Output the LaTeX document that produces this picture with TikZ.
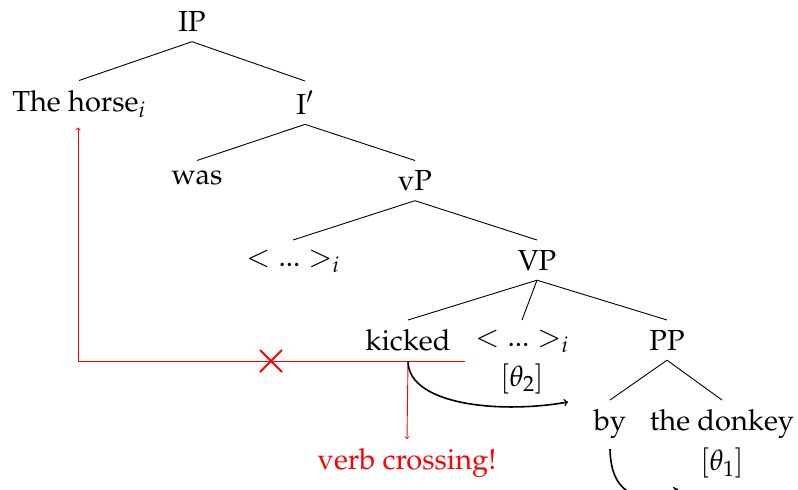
\documentclass[tikz,border=0pt]{standalone}
\usepackage[T1]{fontenc}
\usepackage{mathpazo}
\begin{document}
\begin{tikzpicture}[x=1pt,y=-1pt,
  every node/.style={font=\fontsize{29}{40}\selectfont, inner sep=10pt, outer sep=0pt, anchor=north, align=center},
  edge/.style={line width=0.9pt},
  redline/.style={red, line width=0.9pt},
  curve/.style={line width=1.6pt, ->}]
\useasboundingbox (0,0) rectangle (798,490);
% tree nodes
\node (IP) at (192,1.5) {IP};
\node (horse) at (79,80.5) {The horse$_i$};
\node (Ib) at (305,81) {I$'$};
\node (was) at (197,160.5) {was};
\node (vP) at (415,160.5) {vP};
\node (t1) at (293,240) {$< ... >_i$};
\node (VP) at (537,240) {VP};
\node (kicked) at (408,320) {kicked};
\node (t2) at (522,320) {$< ... >_i$\\$[\theta_2]$};
\node (PP) at (667,320) {PP};
\node (by) at (610,400) {by};
\node (donkey) at (722,400) {the donkey\\$[\theta_1]$};
\node[text=red] (vc) at (407,439) {verb crossing!};
% tree edges
\draw[edge] (IP.south) -- (horse.north);
\draw[edge] (IP.south) -- (Ib.north);
\draw[edge] (Ib.south) -- (was.north);
\draw[edge] (Ib.south) -- (vP.north);
\draw[edge] (vP.south) -- (t1.north);
\draw[edge] (vP.south) -- (VP.north);
\draw[edge] (VP.south) -- (kicked.north);
\draw[edge] (VP.south) -- (t2.north);
\draw[edge] (VP.south) -- (PP.north);
\draw[edge] (PP.south) -- (by.north);
\draw[edge] (PP.south) -- (donkey.north);
% red movement
\coordinate (c1) at (78,361);
\coordinate (re) at (465,361);
\coordinate (x) at (271,361);
\draw[redline] (re) -- (c1);
\draw[redline,->] (c1) -- (c1 |- horse.south);
\draw[redline,->] (kicked.south) -- (vc.north);
\draw[red,line width=1.8pt] (x) ++(-11,-11) -- ++(22,22);
\draw[red,line width=1.8pt] (x) ++(-11,11) -- ++(22,-22);
% theta arrows
\coordinate (e1) at (568,402);
\coordinate (e2) at (678,489);
\draw[curve] (kicked.south) .. controls (409,405) and (500,414) .. (e1);
\draw[curve] (by.south) .. controls (611,500) and (645,503) .. (e2);
\end{tikzpicture}
\end{document}
